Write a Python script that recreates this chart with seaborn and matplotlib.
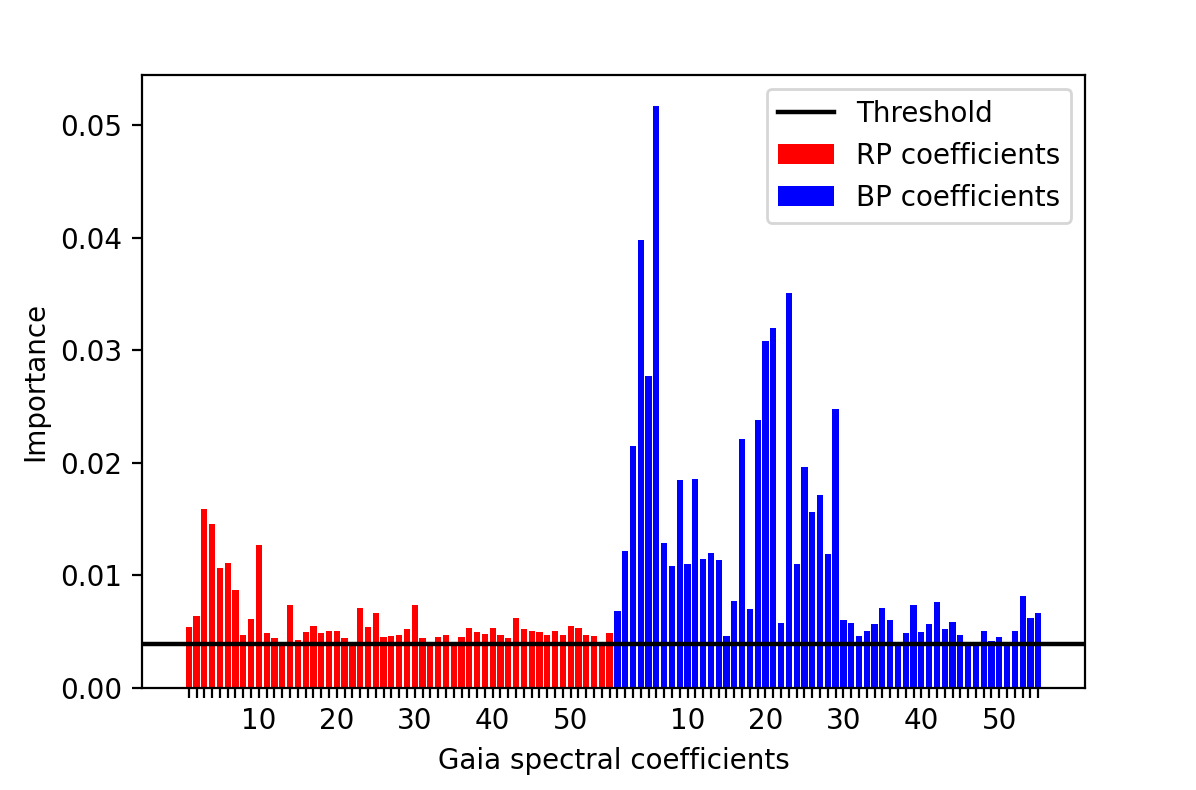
import numpy as np
import pandas as pd
import matplotlib
matplotlib.use("Agg")
import matplotlib.pyplot as plt
import seaborn as sns

# === Данные ===
rp_importance = [
    0.0054, 0.0064, 0.0159, 0.0146, 0.0107, 0.0111, 0.0087, 0.0047, 0.0061, 0.0127,
    0.0049, 0.0044, 0.0040, 0.0074, 0.0043, 0.0050, 0.0055, 0.0049, 0.0051, 0.0051,
    0.0044, 0.0040, 0.0071, 0.0054, 0.0067, 0.0045, 0.0046, 0.0047, 0.0052, 0.0074,
    0.0044, 0.0040, 0.0045, 0.0047, 0.0040, 0.0045, 0.0053, 0.0050, 0.0048, 0.0053,
    0.0047, 0.0044, 0.0062, 0.0052, 0.0051, 0.0050, 0.0047, 0.0051, 0.0047, 0.0055,
    0.0053, 0.0047, 0.0046, 0.0040, 0.0049,
]
bp_importance = [
    0.0068, 0.0122, 0.0215, 0.0398, 0.0277, 0.0517, 0.0129, 0.0108, 0.0185, 0.0110,
    0.0186, 0.0115, 0.0120, 0.0114, 0.0046, 0.0077, 0.0221, 0.0070, 0.0238, 0.0308,
    0.0320, 0.0058, 0.0351, 0.0110, 0.0196, 0.0156, 0.0171, 0.0119, 0.0248, 0.0060,
    0.0058, 0.0046, 0.0051, 0.0057, 0.0071, 0.0060, 0.0040, 0.0049, 0.0074, 0.0050,
    0.0057, 0.0076, 0.0052, 0.0059, 0.0047, 0.0040, 0.0040, 0.0051, 0.0042, 0.0045,
    0.0040, 0.0051, 0.0082, 0.0062, 0.0067,
]
threshold = 0.0039
tick_step = 10

# --- Таблица для seaborn ---
n_rp = len(rp_importance)
n_bp = len(bp_importance)
df = pd.DataFrame({
    "position": np.arange(1, n_rp + n_bp + 1),
    "importance": rp_importance + bp_importance,
    "band": ["RP coefficients"] * n_rp + ["BP coefficients"] * n_bp,
})
coef_number = list(range(1, n_rp + 1)) + list(range(1, n_bp + 1))

fig = plt.figure(figsize=(5.98, 3.95), dpi=200)
ax = fig.add_axes([0.1187, 0.1291, 0.9072 - 0.1187, 0.9051 - 0.1291])

sns.barplot(data=df, x="position", y="importance", hue="band",
            palette={"RP coefficients": "red", "BP coefficients": "blue"},
            native_scale=True, dodge=False, width=0.8, saturation=1,
            edgecolor="none", ax=ax)
ax.axhline(threshold, color="black", linewidth=1.6, label="Threshold")

ax.set_xlim(df["position"].min() - 6, df["position"].max() + 6)
ax.set_ylim(0, df["importance"].max() * 1.053)

ax.set_xticks(df["position"])
ax.set_xticklabels([str(c) if c % tick_step == 0 else "" for c in coef_number])
ax.tick_params(axis="both", labelsize=10)
ax.set_xlabel("Gaia spectral coefficients", fontsize=10)
ax.set_ylabel("Importance", fontsize=10)

handles, labels = ax.get_legend_handles_labels()
order = [labels.index("Threshold"), labels.index("RP coefficients"),
         labels.index("BP coefficients")]
ax.legend([handles[i] for i in order], [labels[i] for i in order],
          loc="upper right", fontsize=10)

fig.savefig("out.png", dpi=200)
